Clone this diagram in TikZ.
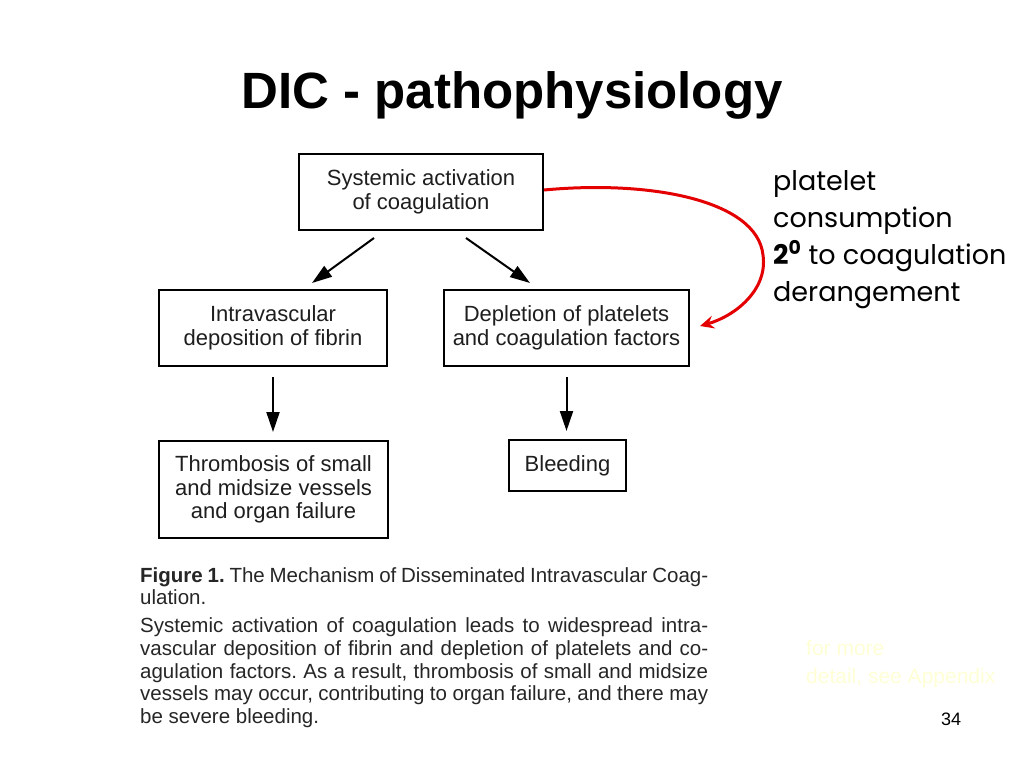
\documentclass[tikz,border=0pt]{standalone}
\usepackage{fontspec}
\setmainfont{Liberation Sans}
\newfontfamily\gothic{Poppins}
\usetikzlibrary{arrows.meta}
\definecolor{slidered}{RGB}{228,0,0}
\definecolor{faint}{RGB}{255,255,214}
\definecolor{boxtext}{RGB}{30,30,30}
\frenchspacing
\begin{document}
\begin{tikzpicture}[x=1pt,y=-1pt,
  box/.style={draw=black,line width=2pt,text=boxtext,font=\fontsize{22}{23.5}\selectfont,align=center,inner sep=0pt},
  flow/.style={line width=2pt,-{Triangle[length=20pt,width=13pt]}},
  redarrow/.style={draw=slidered,line width=3pt,-{Stealth[length=14pt,width=13pt,inset=5pt]}},
  captxt/.style={anchor=base west,inner sep=0pt,text=black!85,font=\fontsize{20.5}{22}\selectfont},
  notetxt/.style={anchor=base west,inner sep=0pt,font=\gothic\fontsize{27}{30}\selectfont},
  faintxt/.style={anchor=base west,inner sep=0pt,text=faint,font=\fontsize{21}{24}\selectfont}
]
\useasboundingbox[fill=white] (0,0) rectangle (1024,768);

\node[anchor=base,inner sep=0pt,font=\fontsize{51}{60}\selectfont\bfseries] (title) at (512,108) {DIC - pathophysiology};

\node[box,minimum width=244pt,minimum height=76pt] (b1) at (421,192) {Systemic activation\\of coagulation};
\node[box,minimum width=228pt,minimum height=76pt] (b2) at (273,328) {Intravascular\\deposition of fibrin};
\node[box,minimum width=245pt,minimum height=76pt] (b3) at (566.5,328) {Depletion of platelets\\and coagulation factors};
\node[box,minimum width=229pt,minimum height=97pt] (b4) at (273.5,489.5) {Thrombosis of small\\and midsize vessels\\and organ failure};
\node[box,minimum width=117pt,minimum height=51pt] (b5) at (567.5,465.5) {Bleeding};

\coordinate (a1s) at (374,238); \coordinate (a1e) at (312,283);
\coordinate (a2s) at (466,238); \coordinate (a2e) at (530,283);
\draw[flow] (a1s) -- (a1e);
\draw[flow] (a2s) -- (a2e);
\draw[flow] ([yshift=-10pt]b2.south) -- ([yshift=8pt]b2.south |- b4.north);
\draw[flow] ([yshift=-10pt]b3.south) -- ([yshift=8pt]b3.south |- b5.north);

\draw[redarrow] ([yshift=2pt]b1.east) .. controls (650,180) and (757,200) .. (763,255)
  .. controls (768,290) and (735,316) .. ([xshift=10pt,yshift=2pt]b3.east);

\node[notetxt] (n1) at (773,190) {platelet};
\node[notetxt] (n2) at (773,227) {consumption};
\node[notetxt] (n3) at (773,264) {\textbf{2\textsuperscript{0}} to coagulation};
\node[notetxt] (n4) at (773,301) {derangement};

\node[captxt] (c1) at (140,582) {\makebox[568pt][s]{\textbf{Figure 1.} The Mechanism of Disseminated Intravascular Coag-}};
\node[captxt] (c2) at (140,604) {ulation.};
\node[captxt] (c3) at (140,632) {\makebox[568pt][s]{Systemic activation of coagulation leads to widespread intra-}};
\node[captxt] (c4) at (140,655) {\makebox[568pt][s]{vascular deposition of fibrin and depletion of platelets and co-}};
\node[captxt] (c5) at (140,678) {\makebox[568pt][s]{agulation factors. As a result, thrombosis of small and midsize}};
\node[captxt] (c6) at (140,700) {\makebox[568pt][s]{vessels may occur, contributing to organ failure, and there may}};
\node[captxt] (c7) at (140,723) {be severe bleeding.};

\node[faintxt] (f1) at (806,655) {for more};
\node[faintxt] (f2) at (806,683) {detail, see Appendix};

\node[anchor=base west,inner sep=0pt,font=\fontsize{18}{20}\selectfont] (pg) at (941,725) {34};
\end{tikzpicture}
\end{document}
